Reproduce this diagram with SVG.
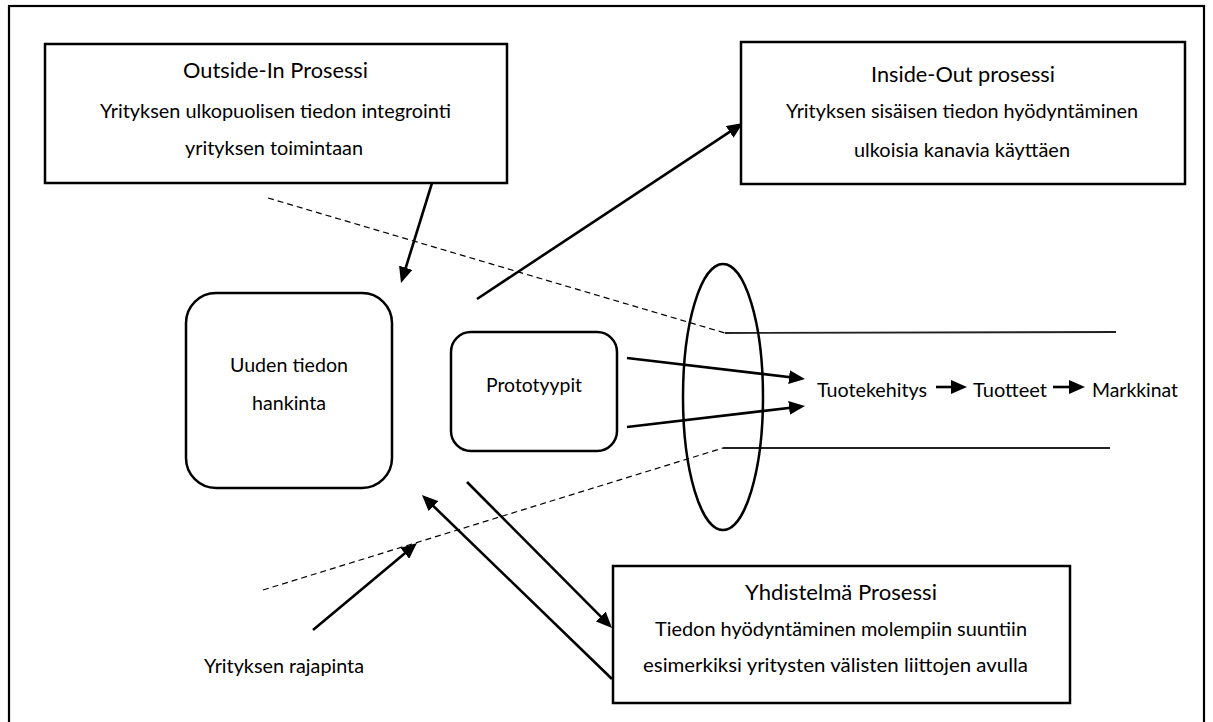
<svg xmlns="http://www.w3.org/2000/svg" width="1213" height="722" viewBox="0 0 1213 722">
  <style>
    .box { fill: #fff; stroke: #000; stroke-width: 2.5; }
    .frame { fill: none; stroke: #000; stroke-width: 2.2; }
    .title { font-family: Lato, "Open Sans", sans-serif; font-size: 22px; fill: #000; }
    .txt { font-family: Lato, "Open Sans", sans-serif; font-size: 19.5px; fill: #000; }
    .arrow { fill: none; stroke: #000; stroke-width: 2.6; marker-end: url(#head); }
    .dash { fill: none; stroke: #000; stroke-width: 1.2; stroke-dasharray: 6 4; }
    .edge { fill: none; stroke: #222; stroke-width: 1.8; }
  </style>
  <defs>
    <marker id="head" markerUnits="userSpaceOnUse" viewBox="0 0 16 14" markerWidth="16" markerHeight="14" refX="10" refY="7" orient="auto">
      <path d="M0,0 L16,7 L0,14 Z" fill="#000"/>
    </marker>
  </defs>

  <rect width="1213" height="722" fill="#fff"/>
  <!-- outer frame, open at the bottom edge of the page -->
  <rect class="frame" x="9" y="6" width="1195" height="730"/>

  <!-- boundary lines and arrows -->
  <g id="connectors">
    <polyline class="dash" points="268,198 725,333"/>
    <line class="edge" x1="725" y1="333" x2="1116" y2="332"/>
    <polyline class="dash" points="263,590 723,448"/>
    <line class="edge" x1="723" y1="448" x2="1110" y2="448"/>

    <line class="arrow" x1="432" y1="183" x2="402.8" y2="277.3"/>
    <line class="arrow" x1="477" y1="299" x2="738" y2="126.3"/>
    <line class="arrow" x1="627" y1="358" x2="799" y2="378.3"/>
    <line class="arrow" x1="627" y1="427" x2="799" y2="406.7"/>
    <line class="arrow" x1="467" y1="482" x2="607.8" y2="623.7"/>
    <line class="arrow" x1="612" y1="679" x2="426.3" y2="499.2"/>
    <line class="arrow" x1="313" y1="630" x2="412.4" y2="546.9"/>
    <line class="arrow" x1="936" y1="387" x2="961" y2="387"/>
    <line class="arrow" x1="1053" y1="387" x2="1079" y2="387"/>
  </g>

  <g id="outside-in">
    <rect class="box" x="45" y="44" width="462" height="139"/>
    <text class="title" x="183" y="78" textLength="185" lengthAdjust="spacingAndGlyphs">Outside-In Prosessi</text>
    <text class="txt" x="100" y="118" textLength="351" lengthAdjust="spacingAndGlyphs">Yrityksen ulkopuolisen tiedon integrointi</text>
    <text class="txt" x="185" y="155" textLength="178" lengthAdjust="spacingAndGlyphs">yrityksen toimintaan</text>
  </g>

  <g id="inside-out">
    <rect class="box" x="741" y="42" width="444" height="142"/>
    <text class="title" x="871" y="82" textLength="184" lengthAdjust="spacingAndGlyphs">Inside-Out prosessi</text>
    <text class="txt" x="786" y="118" textLength="352" lengthAdjust="spacingAndGlyphs">Yrityksen sisäisen tiedon hyödyntäminen</text>
    <text class="txt" x="854" y="157" textLength="216" lengthAdjust="spacingAndGlyphs">ulkoisia kanavia käyttäen</text>
  </g>

  <g id="uuden-tiedon-hankinta">
    <rect class="box" x="186" y="293" width="206" height="195" rx="30" ry="30"/>
    <text class="txt" x="230" y="372" textLength="118" lengthAdjust="spacingAndGlyphs">Uuden tiedon</text>
    <text class="txt" x="252" y="410" textLength="74" lengthAdjust="spacingAndGlyphs">hankinta</text>
  </g>

  <g id="prototyypit">
    <rect class="box" x="451" y="332" width="166" height="119" rx="20" ry="20"/>
    <text class="txt" x="486" y="392" textLength="96" lengthAdjust="spacingAndGlyphs">Prototyypit</text>
  </g>

  <g id="suppilo">
    <ellipse cx="723" cy="397" rx="40" ry="133" fill="none" stroke="#000" stroke-width="2.5"/>
  </g>

  <g id="tuotekehitys">
    <text class="txt" x="817" y="397" textLength="110" lengthAdjust="spacingAndGlyphs">Tuotekehitys</text>
  </g>
  <g id="tuotteet">
    <text class="txt" x="973" y="397" textLength="74" lengthAdjust="spacingAndGlyphs">Tuotteet</text>
  </g>
  <g id="markkinat">
    <text class="txt" x="1092" y="397" textLength="86" lengthAdjust="spacingAndGlyphs">Markkinat</text>
  </g>

  <g id="yhdistelma">
    <rect class="box" x="613" y="566" width="457" height="137"/>
    <text class="title" x="745" y="600" textLength="192" lengthAdjust="spacingAndGlyphs">Yhdistelmä Prosessi</text>
    <text class="txt" x="655" y="636" textLength="372" lengthAdjust="spacingAndGlyphs">Tiedon hyödyntäminen molempiin suuntiin</text>
    <text class="txt" x="643" y="672" textLength="385" lengthAdjust="spacingAndGlyphs">esimerkiksi yritysten välisten liittojen avulla</text>
  </g>

  <g id="rajapinta">
    <text class="txt" x="204" y="673" textLength="160" lengthAdjust="spacingAndGlyphs">Yrityksen rajapinta</text>
  </g>
</svg>
